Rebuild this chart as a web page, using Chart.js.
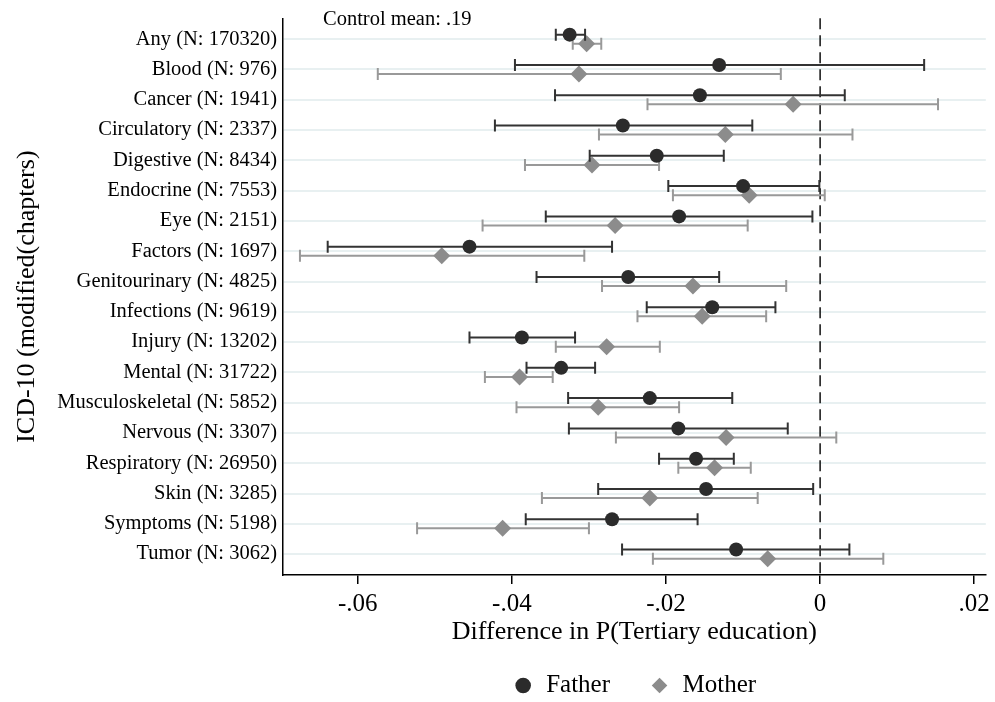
<!DOCTYPE html>
<html lang="en">
<head>
<meta charset="UTF-8">
<title>ICD-10 chapters: difference in P(Tertiary education)</title>
<script src="https://cdn.jsdelivr.net/npm/chart.js"></script>
<style>
    * { margin: 0; padding: 0; }
    body { background: white; width: 995px; height: 702px; overflow: hidden; }
</style>
</head>
<body>
<canvas id="chart" width="995" height="702"></canvas>
<script>
    const labels = [
        "Any (N: 170320)", "Blood (N: 976)", "Cancer (N: 1941)", "Circulatory (N: 2337)",
        "Digestive (N: 8434)", "Endocrine (N: 7553)", "Eye (N: 2151)", "Factors (N: 1697)",
        "Genitourinary (N: 4825)", "Infections (N: 9619)", "Injury (N: 13202)", "Mental (N: 31722)",
        "Musculoskeletal (N: 5852)", "Nervous (N: 3307)", "Respiratory (N: 26950)", "Skin (N: 3285)",
        "Symptoms (N: 5198)", "Tumor (N: 3062)"
    ]
    const fatherEst = [-0.0325, -0.0131, -0.0156, -0.0256, -0.0212, -0.0100, -0.0183, -0.0455, -0.0249,
                       -0.0140, -0.0387, -0.0336, -0.0221, -0.0184, -0.0161, -0.0148, -0.0270, -0.0109]
    const fatherLo  = [-0.0343, -0.0396, -0.0344, -0.0422, -0.0299, -0.0197, -0.0356, -0.0639, -0.0368,
                       -0.0225, -0.0455, -0.0381, -0.0327, -0.0326, -0.0209, -0.0288, -0.0382, -0.0257]
    const fatherHi  = [-0.0305, 0.0135, 0.0032, -0.0088, -0.0125, -0.0001, -0.0010, -0.0270, -0.0131,
                       -0.0058, -0.0318, -0.0292, -0.0114, -0.0042, -0.0112, -0.0009, -0.0159, 0.0038]
    const motherEst = [-0.0303, -0.0313, -0.0035, -0.0123, -0.0296, -0.0092, -0.0266, -0.0491, -0.0165,
                       -0.0153, -0.0277, -0.0390, -0.0288, -0.0122, -0.0137, -0.0221, -0.0412, -0.0068]
    const motherLo  = [-0.0321, -0.0574, -0.0224, -0.0287, -0.0383, -0.0191, -0.0438, -0.0675, -0.0283,
                       -0.0237, -0.0343, -0.0435, -0.0394, -0.0265, -0.0184, -0.0361, -0.0523, -0.0217]
    const motherHi  = [-0.0284, -0.0051, 0.0153, 0.0042, -0.0209, 0.0006, -0.0094, -0.0306, -0.0044,
                       -0.0070, -0.0208, -0.0347, -0.0183, 0.0021, -0.0090, -0.0081, -0.0300, 0.0082]
    const xTicks = [-0.06, -0.04, -0.02, 0, 0.02]
    const controlMean = ".19"

    const serif = "'Liberation Serif', 'Times New Roman', serif"
    Chart.defaults.font.family = serif
    Chart.defaults.color = "#000"

    const shift = 0.15  // father drawn just above the row line, mother just below

    function points(est, dir) {
        return est.map((v, i) => ({x: v, y: i + dir * shift}))
    }

    // confidence intervals, drawn under each dataset's markers
    const errorBars = {
        id: "errorBars",
        beforeDatasetDraw(chart, args) {
            const ds = chart.data.datasets[args.index]
            const xs = chart.scales.x, ys = chart.scales.y
            const ctx = chart.ctx
            ctx.save()
            ctx.strokeStyle = ds.barColor
            ctx.lineWidth = 2
            ds.lo.forEach((lo, i) => {
                const yp = ys.getPixelForValue(ds.data[i].y)
                const x0 = xs.getPixelForValue(lo)
                const x1 = xs.getPixelForValue(ds.hi[i])
                ctx.beginPath()
                ctx.moveTo(x0, yp); ctx.lineTo(x1, yp)
                ctx.moveTo(x0, yp - 6); ctx.lineTo(x0, yp + 6)
                ctx.moveTo(x1, yp - 6); ctx.lineTo(x1, yp + 6)
                ctx.stroke()
            })
            ctx.restore()
        }
    }

    const zeroLine = {
        id: "zeroLine",
        beforeDatasetsDraw(chart) {
            const ctx = chart.ctx, area = chart.chartArea
            const x0 = chart.scales.x.getPixelForValue(0)
            ctx.save()
            ctx.strokeStyle = "#111"
            ctx.lineWidth = 1.5
            ctx.setLineDash([11, 6])
            ctx.beginPath()
            ctx.moveTo(x0, area.top)
            ctx.lineTo(x0, area.bottom)
            ctx.stroke()
            ctx.restore()
        },
        afterDraw(chart) {
            const ctx = chart.ctx, area = chart.chartArea
            ctx.save()
            ctx.fillStyle = "#000"
            ctx.font = "20.5px " + serif
            ctx.textBaseline = "middle"
            ctx.fillText("Control mean: " + controlMean, area.left + 40, area.top + 1)
            ctx.restore()
        }
    }

    // legend is centred under the plot region, not the whole canvas
    const legendPlace = {
        id: "legendPlace",
        afterLayout(chart) {
            const lg = chart.legend
            lg.left = chart.chartArea.left
            lg.right = chart.chartArea.right
            lg.top += 6
            lg.bottom += 6
        }
    }

    const chart = new Chart(document.getElementById("chart"), {
        type: "scatter",
        data: {
            datasets: [{
                label: "Father",
                data: points(fatherEst, -1),
                lo: fatherLo,
                hi: fatherHi,
                barColor: "#333333",
                pointStyle: "circle",
                pointRadius: 7,
                pointHoverRadius: 7,
                backgroundColor: "#2b2b2b",
                borderWidth: 0
            },
            {
                label: "Mother",
                data: points(motherEst, 1),
                lo: motherLo,
                hi: motherHi,
                barColor: "#999999",
                pointStyle: "rectRot",
                pointRadius: 8.5,
                pointHoverRadius: 8.5,
                backgroundColor: "#8c8c8c",
                borderWidth: 0
            }]
        },
        options: {
            responsive: false,
            animation: false,
            layout: {padding: {left: 0, right: 2, top: 17, bottom: 0}},
            scales: {
                x: {
                    type: "linear",
                    min: -0.0697,
                    max: 0.0215,
                    bounds: "data",
                    afterBuildTicks: s => { s.ticks = xTicks.map(v => ({value: v})) },
                    afterFit: s => { s.height = 53 },
                    ticks: {
                        autoSkip: false,
                        maxRotation: 0,
                        padding: 5,
                        font: {size: 25},
                        callback: v => v === 0 ? "0" : v.toFixed(2).replace("0.", ".")
                    },
                    grid: {drawOnChartArea: false, drawTicks: true, tickLength: 9, color: "#000", lineWidth: 1.5},
                    border: {display: true, color: "#000", width: 1.5},
                    title: {
                        display: true,
                        text: "Difference in P(Tertiary education)",
                        font: {size: 26},
                        padding: {top: 0, bottom: -20}
                    }
                },
                y: {
                    type: "linear",
                    reverse: true,
                    min: -0.69,
                    max: 17.69,
                    bounds: "data",
                    afterBuildTicks: s => { s.ticks = labels.map((l, i) => ({value: i})) },
                    afterFit: s => { s.width = 283 },
                    ticks: {
                        autoSkip: false,
                        padding: 6,
                        font: {size: 20.5},
                        callback: v => labels[v]
                    },
                    grid: {color: "#e8f0f1", lineWidth: 2, drawTicks: false},
                    border: {display: true, color: "#000", width: 1.5},
                    title: {
                        display: true,
                        text: "ICD-10 (modified(chapters)",
                        font: {size: 26},
                        padding: {top: 12, bottom: 0}
                    }
                }
            },
            plugins: {
                tooltip: {enabled: false},
                legend: {
                    position: "bottom",
                    labels: {
                        usePointStyle: true,
                        boxWidth: 21,
                        boxHeight: 11,
                        padding: 39,
                        font: {size: 25},
                        color: "#000"
                    }
                }
            }
        },
        plugins: [errorBars, zeroLine, legendPlace]
    })
</script>
</body>
</html>
